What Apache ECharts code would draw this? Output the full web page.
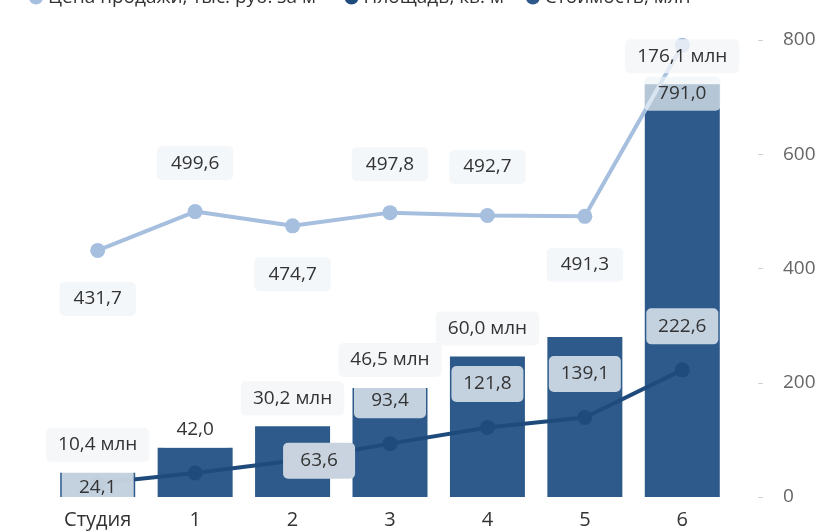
<!DOCTYPE html>
<html>
<head>
<meta charset="utf-8">
<script src="https://cdn.jsdelivr.net/npm/echarts@6/dist/echarts.min.js"></script>
<style>
html,body{margin:0;padding:0;background:#fff;}
#chart{width:825px;height:532px;}
</style>
</head>
<body>
<div id="chart"></div>
<script>
const categories = ['Студия', '1', '2', '3', '4', '5', '6'];
const budget = [10.4, 21.0, 30.2, 46.5, 60.0, 68.3, 176.1];
const area = [24.1, 42.0, 63.6, 93.4, 121.8, 139.1, 222.6];
const price = [431.7, 499.6, 474.7, 497.8, 492.7, 491.3, 791.0];
const yTicks = [0, 200, 400, 600, 800];
const seriesNames = ['Цена продажи, тыс. руб. за м²', 'Площадь, кв. м', 'Стоимость, млн'];

const fmt = v => v.toFixed(1).replace('.', ',');
const FONT = '"Open Sans", "Noto Sans", sans-serif';

const hiddenBudget = [1, 5];
const priceBelow = [0, 2, 5, 6];

const chart = echarts.init(document.getElementById('chart'));
chart.setOption({
  animation: false,
  textStyle: { fontFamily: FONT },
  legend: {
    top: -17, left: 24, icon: 'circle', itemWidth: 14, itemHeight: 14, itemGap: 22,
    textStyle: { fontSize: 19, color: '#333', fontFamily: FONT },
    data: [seriesNames[0], seriesNames[1], seriesNames[2]]
  },
  grid: { left: 49, right: 94, top: 40, bottom: 35 },
  xAxis: {
    type: 'category', data: categories,
    axisLine: { show: false }, axisTick: { show: false },
    axisLabel: { color: '#333', fontSize: 20, margin: 13, fontFamily: FONT }
  },
  yAxis: [
    {
      type: 'value', position: 'right', min: yTicks[0], max: yTicks[yTicks.length - 1],
      interval: yTicks[1] - yTicks[0], offset: 27,
      axisLine: { show: false },
      axisTick: { show: true, length: 5, lineStyle: { color: '#d0d0d0' } },
      splitLine: { show: false },
      axisLabel: { color: '#666', fontSize: 19, margin: 25, fontFamily: FONT }
    },
    { type: 'value', min: 0, max: 195, show: false, splitLine: { show: false } }
  ],
  series: [
    {
      name: seriesNames[2], type: 'bar', yAxisIndex: 1, barWidth: 75, z: 1,
      itemStyle: { color: '#2d5a8b' },
      data: budget
    },
    {
      name: seriesNames[0], type: 'line', yAxisIndex: 0, z: 3,
      symbol: 'circle', symbolSize: 15,
      lineStyle: { color: '#a6bfdf', width: 4 },
      itemStyle: { color: '#a6bfdf' },
      data: price.map((v, i) => ({ value: v, label: { position: priceBelow.indexOf(i) >= 0 ? 'bottom' : 'top' } })),
      label: {
        show: true, distance: 24,
        formatter: p => fmt(p.value),
        color: '#333', fontSize: 19, lineHeight: 22, fontFamily: FONT,
        backgroundColor: 'rgba(240,244,248,0.7)', padding: [6, 14], borderRadius: 5
      }
    },
    {
      name: seriesNames[1], type: 'line', yAxisIndex: 0, z: 4,
      symbol: 'circle', symbolSize: 15,
      lineStyle: { color: '#1f4b7c', width: 4 },
      itemStyle: { color: '#1f4b7c' },
      data: area.map((v, i) => {
        if (i === 0) return { value: v, label: { position: 'inside', offset: [0, 4] } };
        if (i === 2) return { value: v, label: { position: 'right', distance: 19, backgroundColor: '#c9d3df' } };
        return { value: v };
      }),
      label: {
        show: true, position: 'top', distance: 18,
        formatter: p => fmt(p.value),
        color: '#333', fontSize: 19, lineHeight: 22, fontFamily: FONT, width: 48, align: 'center',
        backgroundColor: 'rgba(255,255,255,0.72)', padding: [7, 12], borderRadius: 5
      }
    },
    {
      type: 'bar', yAxisIndex: 1, barWidth: 75, barGap: '-100%', z: 6,
      itemStyle: { color: 'rgba(0,0,0,0)' }, silent: true,
      data: budget.map((v, i) => ({ value: v, label: { show: hiddenBudget.indexOf(i) < 0 } })),
      label: {
        show: true, position: 'top', distance: 11,
        formatter: p => fmt(p.value) + ' млн',
        color: '#333', fontSize: 19, lineHeight: 22, fontFamily: FONT,
        backgroundColor: 'rgba(242,245,248,0.8)', padding: [6, 12], borderRadius: 5
      }
    }
  ]
});
</script>
</body>
</html>
